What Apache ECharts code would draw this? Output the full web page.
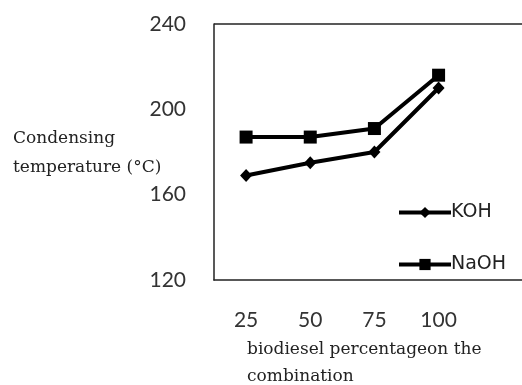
<!DOCTYPE html>
<html><head><meta charset="utf-8">
<script src="https://cdn.jsdelivr.net/npm/echarts@6/dist/echarts.min.js"></script>
<style>html,body{margin:0;padding:0;background:#fff}#c{width:522px;height:385px}</style>
</head><body><div id="c"></div>
<script>
const percentages = [25, 50, 75, 100];
const kohValues = [169, 175, 180, 210];
const naohValues = [187, 187, 191, 216];
const yTicks = [120, 160, 200, 240];
const yTitle = 'Condensing\ntemperature (\u00B0C)';
const xTitle = 'biodiesel percentageon the\ncombination';

const pairs = (vals) => vals.map((v, i) => [percentages[i], v]);

const chart = echarts.init(document.getElementById('c'));
chart.setOption({
  animation: false,
  backgroundColor: '#fff',
  title: [
    {text: yTitle, left: 8, top: 119, textStyle: {fontFamily: 'DejaVu Serif', fontSize: 17, fontWeight: 'normal', color: '#222', lineHeight: 29}},
    {text: xTitle, left: 242, top: 331, textStyle: {fontFamily: 'DejaVu Serif', fontSize: 17, fontWeight: 'normal', color: '#222', lineHeight: 27}}
  ],
  legend: {
    orient: 'vertical', left: 392, top: 198,
    itemWidth: 52, itemHeight: 14, itemGap: 33,
    lineStyle: {width: 4, color: '#000'},
    textStyle: {fontFamily: 'DejaVu Sans', fontSize: 19, color: '#222', padding: [0, 0, 0, -5]},
    data: ['KOH', 'NaOH']
  },
  grid: {left: 214, right: 0, top: 24, bottom: 105},
  xAxis: {
    type: 'value', min: 12.5, max: 132.5,
    axisLine: {show: true, onZero: false, lineStyle: {color: '#222', width: 1.5}},
    axisTick: {show: false},
    splitLine: {show: false},
    axisLabel: {fontFamily: 'Lato', fontSize: 21, color: '#333', margin: 30, customValues: percentages}
  },
  yAxis: {
    type: 'value', min: yTicks[0], max: yTicks[yTicks.length - 1], interval: 40,
    axisLine: {show: true, lineStyle: {color: '#222', width: 1.5}},
    axisTick: {show: false},
    splitLine: {show: false},
    axisLabel: {fontFamily: 'Lato', fontSize: 21, color: '#333', margin: 28}
  },
  graphic: [{type: 'line', shape: {x1: 214, y1: 24, x2: 522, y2: 24}, style: {stroke: '#222', lineWidth: 1.5}}],
  series: [
    {name: 'KOH', type: 'line', data: pairs(kohValues), symbol: 'diamond', symbolSize: [12, 13],
     lineStyle: {color: '#000', width: 4}, itemStyle: {color: '#000'}},
    {name: 'NaOH', type: 'line', data: pairs(naohValues), symbol: 'rect', symbolSize: 13,
     lineStyle: {color: '#000', width: 4}, itemStyle: {color: '#000'}}
  ]
});
</script></body></html>
